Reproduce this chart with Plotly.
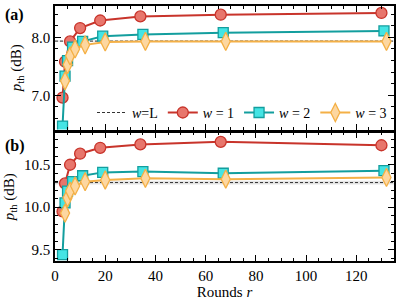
import plotly.graph_objects as go

# Data
r_w1 = [3, 4, 6, 10, 18, 34, 66, 130]
r_w2 = [3, 4, 5, 7, 11, 19, 35, 67, 131]
r_w3 = [4, 5, 6, 8, 12, 20, 36, 68, 132]

a_w1 = [6.96, 7.58, 7.93, 8.16, 8.29, 8.36, 8.39, 8.42]
a_w2 = [6.47, 7.33, 7.60, 7.83, 7.93, 8.02, 8.05, 8.08, 8.11]
a_w3 = [7.25, 7.53, 7.68, 7.80, 7.87, 7.92, 7.93, 7.93, 7.93]
a_L = 7.935
a_L_err = 0.012

b_w1 = [9.95, 10.28, 10.50, 10.63, 10.70, 10.74, 10.77, 10.73]
b_w2 = [9.44, 10.05, 10.19, 10.30, 10.37, 10.41, 10.42, 10.40, 10.43]
b_w3 = [9.93, 10.11, 10.19, 10.25, 10.30, 10.32, 10.34, 10.33, 10.35]
b_L = 10.29
b_L_err = 0.022

x_range = [0, 135]

RED_L, RED_F = "#c8342b", "#e8766c"
TEAL_L, TEAL_F = "#139e9e", "#44e4e4"
ORG_L, ORG_F = "#f4b046", "#fdd7a0"

FONT = "'Liberation Serif', 'Times New Roman', serif"

fig = go.Figure()

def add_panel(xa, ya, L, Lerr, w1, w2, w3, show):
    fig.add_trace(go.Scatter(x=[x_range[0], x_range[1], x_range[1], x_range[0]],
                             y=[L - Lerr, L - Lerr, L + Lerr, L + Lerr],
                             fill="toself", fillcolor="rgba(180,180,180,0.35)",
                             line=dict(width=0), mode="lines", hoverinfo="skip",
                             showlegend=False, xaxis=xa, yaxis=ya))
    fig.add_trace(go.Scatter(x=x_range, y=[L, L], mode="lines",
                             line=dict(color="#333333", width=1, dash="3px,2px"),
                             name="<i>w</i>=L", showlegend=show, xaxis=xa, yaxis=ya))
    for r, v, lc, fc, sym, sz, nm in [
        (r_w1, w1, RED_L, RED_F, "circle", 11, "<i>w</i> = 1"),
        (r_w2, w2, TEAL_L, TEAL_F, "square", 10, "<i>w</i> = 2"),
        (r_w3, w3, ORG_L, ORG_F, "diamond-tall", 13, "<i>w</i> = 3"),
    ]:
        fig.add_trace(go.Scatter(x=r, y=v, mode="lines+markers",
                                 line=dict(color=lc, width=2),
                                 marker=dict(symbol=sym, size=sz, color=fc,
                                             line=dict(color=lc, width=1.3)),
                                 name=nm, showlegend=show, xaxis=xa, yaxis=ya))

add_panel("x", "y", a_L, a_L_err, a_w1, a_w2, a_w3, True)
add_panel("x2", "y2", b_L, b_L_err, b_w1, b_w2, b_w3, False)

axis_common = dict(showline=True, linecolor="black", linewidth=1.6, mirror="ticks",
                   ticks="inside", ticklen=6, tickwidth=1.3, tickcolor="black",
                   showgrid=False, zeroline=False,
                   tickfont=dict(family=FONT, size=15, color="black"))

plot_h = 300 - 4 - 36
plot_w = 405 - 55 - 11

fig.update_layout(
    width=405, height=300,
    margin=dict(l=55, r=11, t=4, b=36),
    paper_bgcolor="white", plot_bgcolor="white",
    font=dict(family=FONT, size=15, color="black"),
    showlegend=True,
    legend=dict(orientation="h", x=(92 - 55) / plot_w, y=(264 - 113) / plot_h,
                xanchor="left", yanchor="middle",
                bgcolor="rgba(0,0,0,0)", font=dict(family=FONT, size=14),
                itemwidth=30, tracegroupgap=0),
    xaxis=dict(domain=[0, 1], range=x_range, anchor="y", dtick=20, showticklabels=False,
               minor=dict(ticks="inside", dtick=5, ticklen=3, tickcolor="black"),
               **axis_common),
    yaxis=dict(domain=[(264 - 130) / plot_h, 1], range=[6.41, 8.54], anchor="x", dtick=1, tick0=7,
               tickformat=".1f",
               minor=dict(ticks="inside", dtick=0.2, ticklen=3, tickcolor="black"),
               title=dict(text="<i>p</i><sub>th</sub> (dB)", standoff=6,
                          font=dict(family=FONT, size=15)),
               **axis_common),
    xaxis2=dict(domain=[0, 1], range=x_range, anchor="y2", dtick=20,
                minor=dict(ticks="inside", dtick=5, ticklen=3, tickcolor="black"),
                title=dict(text="Rounds <i>r</i>", standoff=2,
                           font=dict(family=FONT, size=15)),
                **axis_common),
    yaxis2=dict(domain=[0, (264 - 133) / plot_h], range=[9.365, 10.88], anchor="x2",
                dtick=0.5, tick0=9.5, tickformat=".1f",
                minor=dict(ticks="inside", dtick=0.1, ticklen=3, tickcolor="black"),
                title=dict(text="<i>p</i><sub>th</sub> (dB)", standoff=6,
                           font=dict(family=FONT, size=15)),
                **axis_common),
    annotations=[
        dict(text="<b>(a)</b>", x=-52 / plot_w, y=(264 - 13) / plot_h,
             xref="paper", yref="paper",
             xanchor="left", yanchor="middle", showarrow=False,
             font=dict(family=FONT, size=16)),
        dict(text="<b>(b)</b>", x=-52 / plot_w, y=(264 - 147) / plot_h,
             xref="paper", yref="paper",
             xanchor="left", yanchor="middle", showarrow=False,
             font=dict(family=FONT, size=16)),
    ],
)

fig.write_html("out.html", config={"displayModeBar": False},
               post_script="document.body.style.margin='0';")
